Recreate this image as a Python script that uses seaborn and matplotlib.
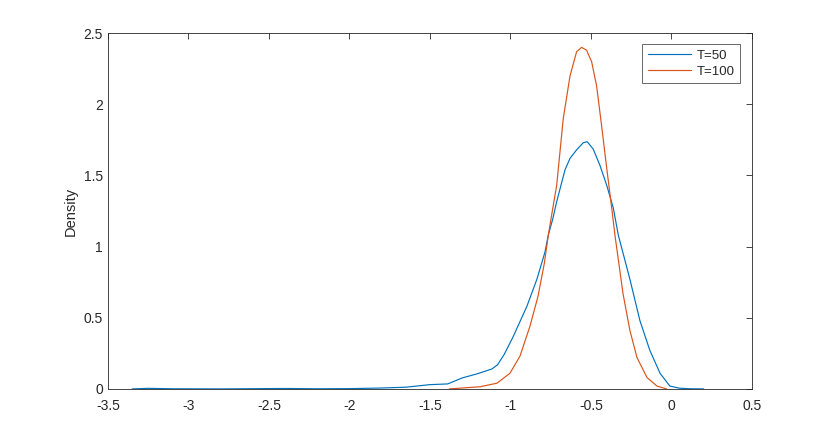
"""
Kernel density of estimates for T=50 and T=100 (MATLAB-style figure).
"""

import pandas as pd
import matplotlib.pyplot as plt
import seaborn as sns

# Density curves
x_t50 = [-3.35, -3.25, -3.1, -2.8, -2.4, -2.2, -2.0, -1.81, -1.65, -1.5, -1.39,
         -1.30, -1.21, -1.115, -1.08, -1.04, -0.984, -0.898, -0.836, -0.786,
         -0.765, -0.736, -0.713, -0.661, -0.63, -0.589, -0.548, -0.523, -0.486,
         -0.444, -0.402, -0.361, -0.33, -0.258, -0.196, -0.134, -0.071, -0.01,
         0.05, 0.12, 0.2]
y_t50 = [0.0, 0.004, 0.001, 0.0, 0.003, 0.001, 0.002, 0.006, 0.012, 0.03, 0.035,
         0.077, 0.105, 0.14, 0.17, 0.24, 0.365, 0.58, 0.77, 0.96,
         1.08, 1.20, 1.315, 1.54, 1.62, 1.68, 1.73, 1.737, 1.685,
         1.57, 1.43, 1.27, 1.08, 0.77, 0.48, 0.27, 0.11, 0.02,
         0.005, 0.001, 0.0]

x_t100 = [-1.38, -1.19, -1.084, -1.003, -0.941, -0.879, -0.829, -0.79, -0.765,
          -0.74, -0.713, -0.672, -0.63, -0.589, -0.558, -0.527, -0.496, -0.465,
          -0.434, -0.402, -0.371, -0.351, -0.301, -0.258, -0.214, -0.152,
          -0.09, -0.03]
y_t100 = [0.0, 0.015, 0.04, 0.11, 0.23, 0.44, 0.65, 0.88, 1.08,
          1.25, 1.43, 1.90, 2.20, 2.37, 2.40, 2.38, 2.30, 2.13,
          1.85, 1.55, 1.27, 1.08, 0.67, 0.41, 0.22, 0.08,
          0.02, 0.0]

x_ticks = [-3.5, -3, -2.5, -2, -1.5, -1, -0.5, 0, 0.5]
x_tick_labels = ['-3.5', '-3', '-2.5', '-2', '-1.5', '-1', '-0.5', '0', '0.5']
y_ticks = [0, 0.5, 1, 1.5, 2, 2.5]
y_tick_labels = ['0', '0.5', '1', '1.5', '2', '2.5']

df = pd.concat([
    pd.DataFrame({'x': x_t50, 'density': y_t50, 'series': 'T=50'}),
    pd.DataFrame({'x': x_t100, 'density': y_t100, 'series': 'T=100'}),
])

sns.set_style("white")
plt.rcParams['font.family'] = ['Liberation Sans', 'DejaVu Sans']
plt.rcParams['axes.unicode_minus'] = False

fig = plt.figure(figsize=(8.3, 4.36), dpi=100)
ax = fig.add_axes([0.130, 0.108, 0.776, 0.816])

sns.lineplot(data=df, x='x', y='density', hue='series',
             palette={'T=50': '#0072BD', 'T=100': '#D95319'},
             linewidth=0.85, ax=ax)

ax.set_xlim(-3.5, 0.5)
ax.set_ylim(0, 2.5)
ax.set_xticks(x_ticks)
ax.set_xticklabels(x_tick_labels)
ax.set_yticks(y_ticks)
ax.set_yticklabels(y_tick_labels)
ax.set_xlabel('')
ax.set_ylabel('Density', fontsize=10.5)
ax.tick_params(direction='in', length=4, width=0.6, labelsize=10,
               top=True, right=True, colors='#262626')
ax.tick_params(axis='x', pad=7)
for s in ax.spines.values():
    s.set_linewidth(0.6)
    s.set_color('#262626')

leg = ax.legend(loc='upper right', fontsize=9.5, frameon=True, fancybox=False,
                handlelength=3.3, handletextpad=0.4, borderpad=0.4,
                labelspacing=0.3, borderaxespad=0,
                bbox_to_anchor=(0.981, 0.969))
leg.get_frame().set_edgecolor('#262626')
leg.get_frame().set_linewidth(0.6)

plt.savefig('out.png', dpi=100)
